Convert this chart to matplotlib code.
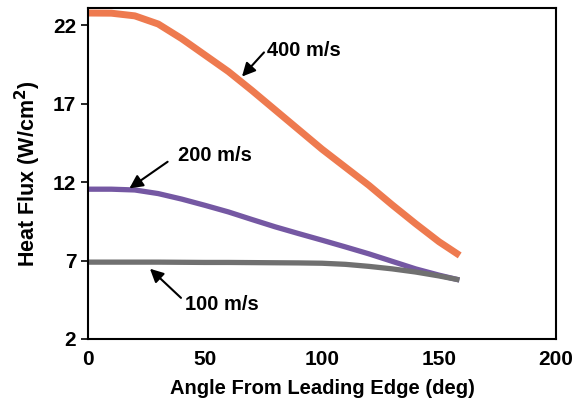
import matplotlib
matplotlib.use("Agg")
from matplotlib import pyplot as plt

plt.rcParams['font.family'] = ['Liberation Sans', 'DejaVu Sans']
plt.rcParams['font.weight'] = 'bold'

# angle (deg) and heat flux (W/cm2)
angle = [0, 10, 20, 30, 40, 50, 60, 70, 80, 90, 100, 110, 120, 130, 140, 150, 157.6]
flux_400 = [22.78, 22.77, 22.6, 22.08, 21.15, 20.1, 19.05, 17.85, 16.6, 15.35, 14.1, 12.95, 11.8, 10.55, 9.35, 8.2, 7.45]
flux_200 = [11.55, 11.55, 11.5, 11.27, 10.92, 10.52, 10.1, 9.62, 9.15, 8.72, 8.3, 7.87, 7.43, 6.95, 6.47, 6.07, 5.8]
flux_100 = [6.9, 6.9, 6.9, 6.9, 6.89, 6.88, 6.88, 6.87, 6.86, 6.85, 6.83, 6.76, 6.63, 6.47, 6.27, 6.02, 5.8]

fig = plt.figure(figsize=(5.76, 4.11), dpi=100)
ax = fig.add_axes([0.1528, 0.1752, 0.8125, 0.8053])

ax.plot(angle, flux_400, color='#EE7A4F', lw=5)
ax.plot(angle, flux_200, color='#7558A3', lw=3.8)
ax.plot(angle, flux_100, color='#707070', lw=3.8)

ax.set_xlim(0, 200)
ax.set_ylim(2, 23.1)
ax.set_xticks([0, 50, 100, 150, 200])
ax.set_yticks([2, 7, 12, 17, 22])
ax.tick_params(axis='x', length=0, pad=8, labelsize=15)
ax.tick_params(axis='y', length=5, width=1.2, labelsize=15)
for s in ax.spines.values():
    s.set_linewidth(1.5)

ax.set_xlabel('Angle From Leading Edge (deg)', fontsize=14.5, fontweight='bold', labelpad=7)
ax.set_ylabel('Heat Flux (W/cm$^\\mathbf{2}$)', fontsize=15.5, fontweight='bold', labelpad=7)

arr = dict(arrowstyle='-|>', color='black', lw=1.5, mutation_scale=20)
ax.annotate('', xy=(65, 18.6), xytext=(76, 20.4), arrowprops=arr)
ax.text(76.5, 20.4, '400 m/s', fontsize=14.5, fontweight='bold', va='center', ha='left')
ax.annotate('', xy=(16.7, 11.5), xytext=(35, 13.4), arrowprops=arr)
ax.text(38.5, 13.7, '200 m/s', fontsize=14.5, fontweight='bold', va='center', ha='left')
ax.annotate('', xy=(25.6, 6.6), xytext=(40.6, 4.5), arrowprops=arr)
ax.text(41.5, 4.2, '100 m/s', fontsize=14.5, fontweight='bold', va='center', ha='left')

fig.savefig('out.png', dpi=100)
